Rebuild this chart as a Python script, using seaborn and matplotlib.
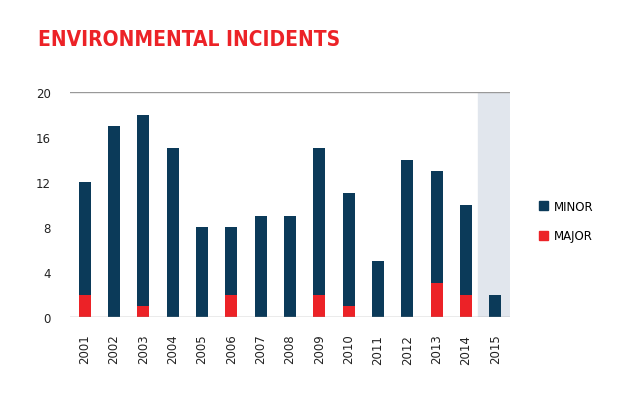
import matplotlib
matplotlib.use("Agg")
import matplotlib.pyplot as plt
import seaborn as sns
import pandas as pd
from matplotlib.patches import Patch

years = [str(y) for y in range(2001, 2016)]
total = [12, 17, 18, 15, 8, 8, 9, 9, 15, 11, 5, 14, 13, 10, 2]
major = [2, 0, 1, 0, 0, 2, 0, 0, 2, 1, 0, 0, 3, 2, 0]
yticks = [0, 4, 8, 12, 16, 20]

navy = "#0b3a59"
red = "#ec2227"
df = pd.DataFrame({"year": years, "total": total, "major": major})

fig = plt.figure(figsize=(6.25, 4.10), dpi=100)
ax = fig.add_axes([70/625, 1-318/410, 440/625, 225/410])
ax.axvspan(13.4, 14.5, color="#e1e6ed", zorder=0)
sns.barplot(data=df, x="year", y="total", color=navy, width=0.4, saturation=1, ax=ax, zorder=2)
sns.barplot(data=df, x="year", y="major", color=red, width=0.4, saturation=1, ax=ax, zorder=3)
ax.set_xlim(-0.5, 14.5)
ax.set_ylim(0, 20)
ax.set_yticks(yticks)
ax.axhline(20, color="#999999", lw=1, zorder=1)
ax.axhline(0, color="#999999", lw=1, zorder=4)
for s in ax.spines.values():
    s.set_visible(False)
ax.tick_params(length=0, labelsize=8.5, colors="#222222")
ax.tick_params(axis="x", rotation=90, pad=12)
ax.tick_params(axis="y", pad=14)
ax.set_xlabel("")
ax.set_ylabel("")
fig.text(38/625, 1-40/410, "ENVIRONMENTAL INCIDENTS", color=red, fontsize=15,
         fontweight="bold", family="DejaVu Sans", fontstretch="condensed", va="center")
fig.legend(handles=[Patch(color=navy, label="MINOR"), Patch(color=red, label="MAJOR")],
           loc="center left", bbox_to_anchor=(528/625, 1-222/410), frameon=False,
           handlelength=0.8, handleheight=0.8, labelspacing=1.4, fontsize=8.5, handletextpad=0.5)
fig.savefig("out.png", dpi=100)
